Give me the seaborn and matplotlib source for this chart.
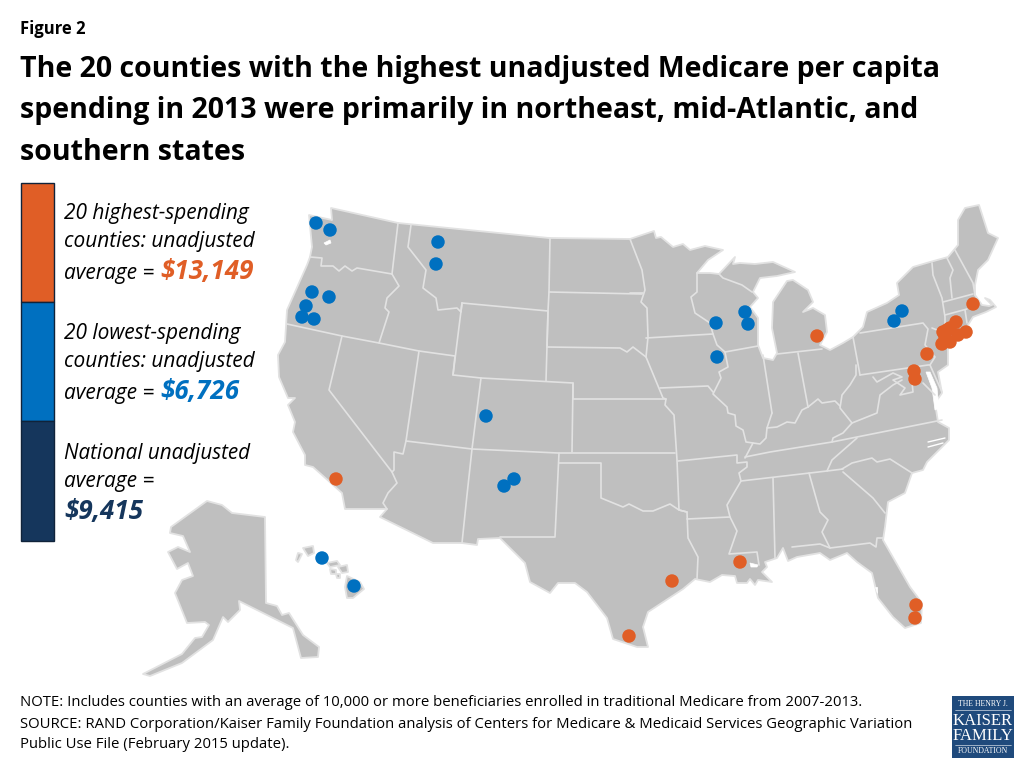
# %%
import pandas as pd
import matplotlib
matplotlib.use("Agg")
import matplotlib.pyplot as plt
from matplotlib.patches import Polygon, Rectangle
import seaborn as sns

# %%
# everything is read off the picture, in image pixels
high_x = [336, 817, 973, 956, 966, 943, 947, 950, 958, 950, 942, 945, 927, 914, 915, 740, 672, 629, 916, 915]
high_y = [479, 336, 304, 322, 332, 332, 330, 328, 335, 342, 344, 337, 354, 371, 379, 562, 581, 636, 605, 618]
low_x = [316, 330, 438, 436, 312, 329, 306, 302, 314, 486, 514, 504, 322, 354, 745, 748, 716, 717, 902, 894]
low_y = [223, 230, 242, 264, 292, 297, 306, 317, 319, 416, 479, 486, 558, 586, 312, 324, 323, 357, 311, 321]

legend_amounts = ["$13,149", "$6,726", "$9,415"]

mainland = [
    (331, 208), (398, 223), (549, 238), (630, 239), (654, 231), (656, 238), (661, 237), (673, 247),
    (683, 244), (690, 250), (705, 246), (723, 250), (708, 260), (697, 273), (710, 273), (719, 274),
    (735, 257), (733, 264), (740, 263), (755, 264), (773, 262), (795, 272), (777, 276), (760, 278),
    (753, 292), (758, 298), (750, 307), (758, 318), (758, 345), (763, 358), (773, 360), (777, 353),
    (772, 328), (773, 302), (787, 281), (793, 280), (808, 290), (813, 302), (803, 312), (813, 308),
    (825, 315), (827, 332), (820, 345), (830, 350), (843, 343), (853, 337), (863, 327), (867, 312),
    (887, 303), (899, 295), (897, 283), (913, 267), (930, 262), (948, 257), (958, 245), (958, 220),
    (965, 208), (979, 205), (988, 233), (998, 238), (988, 260), (978, 270), (975, 285), (975, 295),
    (982, 305), (989, 306), (992, 305), (985, 298), (990, 300), (996, 307), (986, 312), (973, 317),
    (968, 325), (972, 333), (958, 338), (948, 342), (948, 365), (938, 372), (942, 393), (935, 403),
    (938, 422), (949, 428), (949, 440), (927, 462), (923, 470), (912, 473), (905, 493), (888, 502),
    (885, 527), (883, 540), (910, 587), (922, 603), (921, 623), (905, 628), (893, 617), (878, 598),
    (872, 573), (857, 562), (847, 553), (830, 560), (820, 553), (797, 557), (788, 561), (783, 548),
    (777, 558), (765, 562), (767, 567), (762, 572), (772, 582), (758, 580), (755, 585), (750, 579),
    (747, 583), (737, 583), (735, 576), (722, 575), (710, 582),
    (695, 579), (683, 589), (648, 612), (643, 627), (648, 647), (637, 647), (613, 639), (607, 618),
    (587, 592), (575, 583), (558, 583), (550, 593), (530, 582), (525, 563), (500, 538), (478, 539),
    (477, 545), (462, 543), (433, 543), (380, 517), (387, 509), (345, 509), (342, 493), (322, 475),
    (313, 467), (305, 465), (305, 455), (293, 432), (295, 422), (288, 405), (295, 398), (288, 398),
    (279, 377), (278, 355), (285, 342), (287, 310), (307, 265), (310, 257), (312, 247), (309, 215),
    (332, 220),
]
alaska = [
    (207, 501), (222, 505), (232, 513), (265, 517), (266, 603), (277, 606), (282, 615), (289, 613),
    (303, 635), (319, 647), (318, 657), (301, 658), (293, 628), (239, 601), (240, 610), (228, 622),
    (223, 617), (213, 640), (182, 663), (150, 676), (143, 674), (182, 654), (195, 638), (202, 637),
    (209, 625), (205, 622), (187, 623), (175, 593), (182, 580), (193, 576), (188, 563), (177, 569),
    (168, 552), (178, 547), (190, 552), (183, 536), (170, 533), (171, 527),
]
hawaii = [
    [(303, 548), (313, 546), (314, 553), (308, 556)],
    [(296, 560), (298, 553), (302, 554), (298, 562)],
    [(327, 563), (337, 561), (340, 565), (330, 567)],
    [(338, 567), (347, 565), (348, 572), (342, 573)],
    [(330, 569), (336, 570), (336, 574), (331, 574)],
    [(336, 574), (340, 574), (340, 578), (337, 578)],
    [(347, 576), (360, 582), (364, 589), (353, 598), (347, 598), (345, 587)],
]
state_lines = [
    [(398, 223), (392, 274)],
    [(310, 257), (322, 258), (321, 266), (333, 266), (339, 271), (345, 266), (352, 271), (357, 268), (392, 274)],
    [(392, 274), (399, 286), (387, 298), (385, 308), (389, 312), (379, 343)],
    [(287, 324), (342, 336), (379, 343), (419, 351), (455, 356)],
    [(342, 336), (329, 390), (392, 472), (397, 483), (388, 493), (383, 503), (387, 509)],
    [(419, 351), (406, 441), (403, 454), (394, 452), (394, 470), (392, 472)],
    [(406, 441), (472, 449), (467, 495), (462, 543)],
    [(481, 378), (472, 449)],
    [(455, 356), (453, 375), (481, 378), (573, 383), (572, 452)],
    [(462, 303), (548, 311), (546, 381)],
    [(462, 303), (453, 375)],
    [(411, 225), (408, 247), (426, 270), (423, 288), (436, 298), (438, 310), (457, 308), (461, 312), (462, 303)],
    [(550, 238), (549, 292), (548, 311), (547, 347)],
    [(549, 292), (642, 294)],
    [(630, 239), (642, 270), (645, 290), (641, 302), (647, 308), (648, 337), (646, 357), (663, 398), (666, 399), (665, 405), (674, 415), (677, 460), (679, 510), (687, 512)],
    [(547, 347), (620, 348), (627, 352), (633, 347), (646, 357)],
    [(573, 383), (573, 399), (666, 399)],
    [(472, 449), (558, 453), (675, 453)],
    [(559, 453), (555, 537), (500, 537)],
    [(559, 463), (601, 463), (601, 498), (623, 507), (629, 504), (643, 511), (653, 511), (670, 504), (679, 510), (687, 512), (688, 538), (698, 557), (697, 579)],
    [(678, 461), (737, 455), (737, 463), (747, 462), (747, 467), (739, 473), (741, 481), (727, 505), (730, 517), (737, 531), (729, 554), (757, 552), (759, 565)],
    [(687, 519), (730, 517)],
    [(773, 478), (775, 558)],
    [(741, 481), (827, 471), (843, 469)],
    [(809, 473), (820, 512), (828, 520), (822, 532), (830, 548)],
    [(792, 547), (820, 544), (830, 548), (870, 543), (876, 547), (877, 538), (883, 538)],
    [(843, 472), (873, 498), (885, 513)],
    [(842, 469), (852, 463), (872, 458), (877, 462), (890, 459), (912, 473)],
    [(827, 471), (832, 460), (857, 438)],
    [(745, 457), (770, 452), (832, 442), (942, 420)],
    [(832, 442), (833, 438), (843, 433), (852, 423), (840, 408), (842, 395), (850, 385), (856, 375), (856, 365)],
    [(852, 423), (877, 413), (880, 395), (893, 385), (902, 380)],
    [(860, 375), (928, 365), (930, 365)],
    [(853, 337), (860, 375)],
    [(808, 407), (818, 399), (822, 403), (835, 401), (840, 406)],
    [(772, 413), (767, 428), (777, 427), (787, 422), (795, 423), (802, 410), (808, 407)],
    [(798, 353), (808, 407)],
    [(763, 355), (772, 413)],
    [(777, 354), (822, 349)],
    [(767, 428), (766, 438), (760, 444), (753, 443), (745, 458)],
    [(725, 352), (728, 367), (719, 372), (721, 378), (713, 394), (727, 407), (728, 413), (735, 415), (736, 426), (743, 430), (746, 442), (753, 443)],
    [(646, 338), (713, 334)],
    [(725, 352), (758, 346)],
    [(697, 273), (697, 292), (691, 297), (695, 313), (710, 323), (713, 334), (717, 345), (725, 352)],
    [(630, 293), (643, 293)],
    [(660, 388), (708, 386), (713, 392)],
    [(719, 274), (723, 278), (742, 285), (752, 292)],
    [(860, 333), (923, 323), (928, 329), (925, 345), (935, 357), (930, 365), (942, 392)],
    [(932, 328), (950, 335)],
    [(932, 263), (933, 275), (942, 298), (945, 317), (945, 328)],
    [(947, 258), (953, 270), (950, 278), (952, 298)],
    [(955, 250), (973, 283), (975, 295)],
    [(943, 302), (973, 294)],
    [(945, 315), (967, 309)],
    [(965, 310), (967, 323)],
    [(873, 377), (877, 382), (893, 373), (902, 377), (893, 380), (905, 388), (900, 395), (913, 392), (912, 382)],
    [(923, 383), (935, 395)],
]
water = [
    [(926, 372), (932, 388), (935, 410), (939, 408), (937, 388), (930, 372)],
    [(324, 243), (330, 240), (331, 243), (326, 245)],
    [(750, 563), (758, 565), (757, 567), (751, 567)],
    [(875, 587), (877, 587), (877, 593)],
]
inlets = [
    [(928, 442), (945, 438)],
    [(928, 447), (943, 443)],
]

# %%
sns.set_theme(style="white")
plt.rcParams["font.family"] = ["Open Sans", "DejaVu Sans"]

GREY = "#BFBFBF"
EDGE = "#E2E2E2"
ORANGE = "#E05E26"
BLUE = "#0070C0"
NAVY = "#15365C"

fig = plt.figure(figsize=(10.24, 7.68), dpi=100)
ax = fig.add_axes([0, 0, 1, 1])

# map shapes
for shape in [mainland, alaska] + hawaii:
    ax.add_patch(Polygon(shape, closed=True, fc=GREY, ec=EDGE, lw=1.3, joinstyle="round", zorder=1))
for pts in water:
    ax.add_patch(Polygon(pts, closed=True, fc="white", ec="white", lw=0.5, zorder=2))
for line in state_lines:
    ax.plot([p[0] for p in line], [p[1] for p in line], color=EDGE, lw=1.2, zorder=2, solid_joinstyle="round")
for line in inlets:
    ax.plot([p[0] for p in line], [p[1] for p in line], color="white", lw=1.0, zorder=2)

# counties
counties = pd.DataFrame({
    "x": high_x + low_x,
    "y": high_y + low_y,
    "group": ["high"] * len(high_x) + ["low"] * len(low_x),
})
sns.scatterplot(data=counties, x="x", y="y", hue="group", palette={"high": ORANGE, "low": BLUE},
                s=94, linewidth=0, legend=False, ax=ax, zorder=3)
ax.set_xlim(0, 1024)
ax.set_ylim(768, 0)
ax.axis("off")

# headline
ax.text(20, 29, "Figure 2", fontsize=12, fontweight="bold", color="black", va="center")
title_lines = [
    "The 20 counties with the highest unadjusted Medicare per capita",
    "spending in 2013 were primarily in northeast, mid-Atlantic, and",
    "southern states",
]
for i, line in enumerate(title_lines):
    ax.text(20, 69 + i * 41.5, line, fontsize=20.55, fontweight="bold", color="black", va="center")

# legend bar
for top, bottom, col in [(183, 302, ORANGE), (302, 421, BLUE), (421, 541, NAVY)]:
    ax.add_patch(Rectangle((21, top), 33, bottom - top, fc=col, ec="#10233A", lw=1, zorder=3))

legend_font = dict(fontsize=15, fontstyle="italic", color="black", va="center")
amount_font = dict(fontsize=18.7, fontstyle="italic", fontweight="bold", va="center")
ax.text(64, 214, "20 highest-spending", **legend_font)
ax.text(64, 242, "counties: unadjusted", **legend_font)
ax.text(64, 274, "average =", **legend_font)
ax.text(160, 272, legend_amounts[0], color=ORANGE, **amount_font)
ax.text(64, 334, "20 lowest-spending", **legend_font)
ax.text(64, 362, "counties: unadjusted", **legend_font)
ax.text(64, 394, "average =", **legend_font)
ax.text(160, 391, legend_amounts[1], color=BLUE, **amount_font)
ax.text(64, 453, "National unadjusted", fontsize=14.85, fontstyle="italic", color="black", va="center")
ax.text(64, 481, "average =", **legend_font)
ax.text(64, 511, legend_amounts[2], color=NAVY, **amount_font)

# notes
note_lines = [
    "NOTE: Includes counties with an average of 10,000 or more beneficiaries enrolled in traditional Medicare from 2007-2013.",
    "SOURCE: RAND Corporation/Kaiser Family Foundation analysis of Centers for Medicare & Medicaid Services Geographic Variation",
    "Public Use File (February 2015 update).",
]
for i, line in enumerate(note_lines):
    ax.text(20, 703 + i * 21, line, fontsize=10.73, color="black", va="center")

# logo
ax.add_patch(Rectangle((952, 696), 62, 62, fc="#1F4A7C", ec="none", zorder=3))
logo_font = dict(family="Liberation Serif", color="white", ha="center", va="center", zorder=4)
ax.text(983, 704, "THE HENRY J.", fontsize=5.6, **logo_font)
ax.text(983, 721, "KAISER", fontsize=12, **logo_font)
ax.text(983, 736, "FAMILY", fontsize=12, **logo_font)
ax.text(983, 751, "FOUNDATION", fontsize=5.6, **logo_font)
ax.plot([955, 1011], [710, 710], color="white", lw=0.4, zorder=4)
ax.plot([955, 1011], [745, 745], color="white", lw=0.4, zorder=4)

fig.savefig("out.png", dpi=100)
